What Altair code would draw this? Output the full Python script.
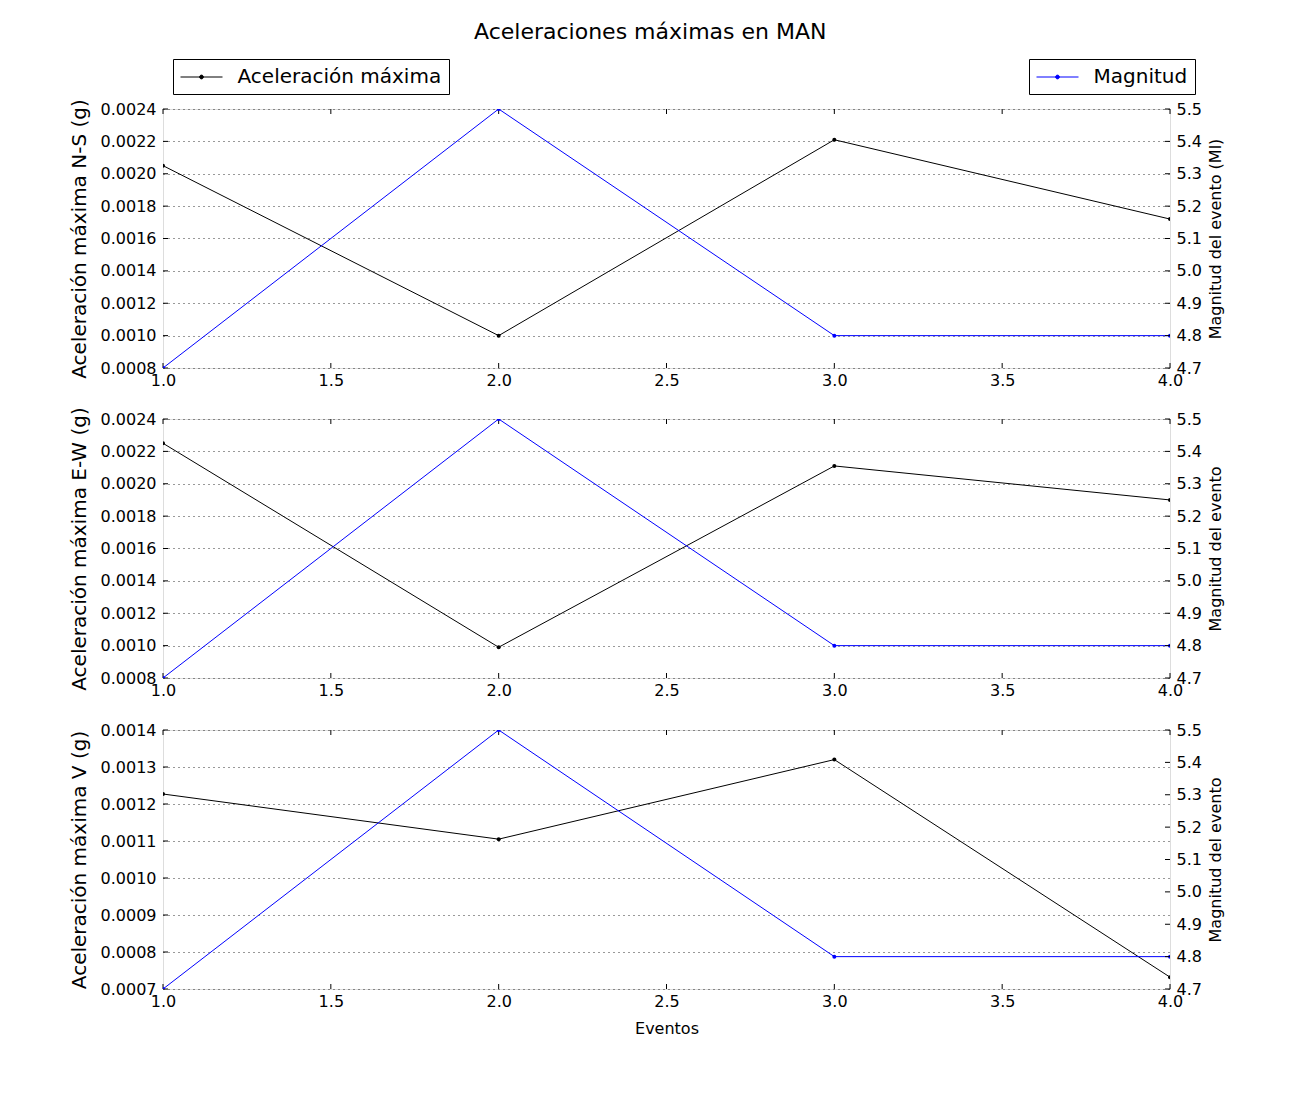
import altair as alt
import pandas as pd

eventos = [1, 2, 3, 4]
acc_ns = [0.00205, 0.00100, 0.00221, 0.00172]
acc_ew = [0.00225, 0.00099, 0.00211, 0.00190]
acc_v = [0.001227, 0.001105, 0.001320, 0.000732]
magnitud = [4.7, 5.5, 4.8, 4.8]

x_ticks = [1.0, 1.5, 2.0, 2.5, 3.0, 3.5, 4.0]
ticks_ns = [0.0008, 0.0010, 0.0012, 0.0014, 0.0016, 0.0018, 0.0020, 0.0022, 0.0024]
ticks_ew = ticks_ns
ticks_v = [0.0007, 0.0008, 0.0009, 0.0010, 0.0011, 0.0012, 0.0013, 0.0014]
ticks_mag = [4.7, 4.8, 4.9, 5.0, 5.1, 5.2, 5.3, 5.4, 5.5]

titulo = "Aceleraciones máximas en MAN"
serie_acc = "Aceleración máxima"
serie_mag = "Magnitud"

W, H = 1007, 259
FONT = "DejaVu Sans"
TL = 5
LEG_PATH = "M-2,0H2M-0.18,0A0.18,0.18,0,1,1,0.18,0A0.18,0.18,0,1,1,-0.18,0Z"


def make_legend(x, fill):
    return alt.Legend(title=None, orient="none", legendX=x, legendY=-50,
                      symbolType=LEG_PATH, symbolSize=441, symbolOffset=10.5,
                      symbolStrokeWidth=1, symbolFillColor=fill,
                      labelFontSize=20, labelFont=FONT, labelLimit=400,
                      labelColor="black", labelOffset=25,
                      strokeColor="black", fillColor="white",
                      padding=7, cornerRadius=0)


def panel(acc, yticks, ytitle, rtitle, xtitle, legend):
    df_a = pd.DataFrame({"evento": eventos, "acc": acc, "serie": serie_acc})
    df_m = pd.DataFrame({"evento": eventos, "mag": magnitud, "serie": serie_mag})
    df_xt = pd.DataFrame({"evento": x_ticks})
    df_yt = pd.DataFrame({"acc": yticks})
    df_rt = pd.DataFrame({"mag": ticks_mag})

    xaxis_kw = dict(values=x_ticks, format=".1f", labelFlush=False, labelOverlap=False,
                    ticks=False, domain=False, grid=False, labelPadding=4,
                    labelFontSize=16, labelFont=FONT, labelColor="black")
    if xtitle:
        xaxis_kw.update(title=xtitle, titleFontSize=16, titleFont=FONT,
                        titleFontWeight="normal", titlePadding=11, titleColor="black")
    else:
        xaxis_kw.update(title=None)
    x = alt.X("evento:Q", scale=alt.Scale(domain=[1, 4], nice=False, zero=False),
              axis=alt.Axis(**xaxis_kw))

    y_left = alt.Y("acc:Q",
                   scale=alt.Scale(domain=[yticks[0], yticks[-1]], nice=False, zero=False),
                   axis=alt.Axis(orient="left", values=yticks, format=".4f", title=ytitle,
                                 ticks=False, domain=False, grid=True, gridDash=[1, 4],
                                 gridColor="black", gridWidth=1, gridOpacity=0.8,
                                 labelPadding=7, labelFontSize=16, labelFont=FONT,
                                 labelColor="black", titleFontSize=20, titleFont=FONT,
                                 titleFontWeight="normal", titlePadding=11,
                                 titleColor="black", labelOverlap=False))
    y_right = alt.Y("mag:Q",
                    scale=alt.Scale(domain=[ticks_mag[0], ticks_mag[-1]], nice=False, zero=False),
                    axis=alt.Axis(orient="right", values=ticks_mag, format=".1f", title=rtitle,
                                  ticks=False, domain=False, grid=False,
                                  labelPadding=6, labelFontSize=16, labelFont=FONT,
                                  labelColor="black", titleFontSize=16, titleFont=FONT,
                                  titleFontWeight="normal", titlePadding=6,
                                  titleColor="black", titleAngle=270, titleBaseline="top",
                                  labelOverlap=False))

    pt_a = alt.OverlayMarkDef(filled=True, size=16, clip=True, color="black")
    pt_m = alt.OverlayMarkDef(filled=True, size=16, clip=True, color="blue")
    enc_a = dict(x=x, y=y_left)
    enc_m = dict(x=x, y=y_right)
    if legend:
        enc_a["color"] = alt.Color("serie:N", scale=alt.Scale(range=["black"]),
                                   legend=make_legend(10, "black"))
        enc_m["color"] = alt.Color("serie:N", scale=alt.Scale(range=["blue"]),
                                   legend=make_legend(866, "blue"))

    line_a = alt.Chart(df_a).mark_line(color="black", strokeWidth=1, clip=True, point=pt_a).encode(**enc_a)
    line_m = alt.Chart(df_m).mark_line(color="blue", strokeWidth=1, clip=True, point=pt_m).encode(**enc_m)

    xt_top = alt.Chart(df_xt).mark_rule(color="black", strokeWidth=1).encode(
        x=x, y=alt.value(0), y2=alt.value(TL))
    xt_bot = alt.Chart(df_xt).mark_rule(color="black", strokeWidth=1).encode(
        x=x, y=alt.value(H), y2=alt.value(H - TL))
    yt_left = alt.Chart(df_yt).mark_rule(color="black", strokeWidth=1).encode(
        y=y_left, x=alt.value(0), x2=alt.value(TL))
    yt_right = alt.Chart(df_rt).mark_rule(color="black", strokeWidth=1).encode(
        y=y_right, x=alt.value(W), x2=alt.value(W - TL))

    left = alt.layer(line_a, yt_left, xt_top, xt_bot)
    right = alt.layer(line_m, yt_right)
    return alt.layer(left, right).resolve_scale(y="independent", color="independent").properties(
        width=W, height=H)


p1 = panel(acc_ns, ticks_ns, "Aceleración máxima N-S (g)", "Magnitud del evento (Ml)", None, True)
p2 = panel(acc_ew, ticks_ew, "Aceleración máxima E-W (g)", "Magnitud del evento", None, False)
p3 = panel(acc_v, ticks_v, "Aceleración máxima V (g)", "Magnitud del evento", "Eventos", False)

top = alt.vconcat(p1, p2, spacing=17).resolve_scale(color="independent")
chart = alt.vconcat(top, p3, spacing=22).resolve_scale(color="independent").properties(
    title=alt.TitleParams(titulo, fontSize=22, font=FONT, fontWeight="normal",
                          anchor="middle", color="black", offset=14, dx=4),
    padding={"left": 60, "top": 13, "right": 20, "bottom": 20},
).configure_view(stroke="black", strokeWidth=1.3).configure(background="white")

chart.save("out.html", embed_options={"renderer": "svg", "actions": False})
